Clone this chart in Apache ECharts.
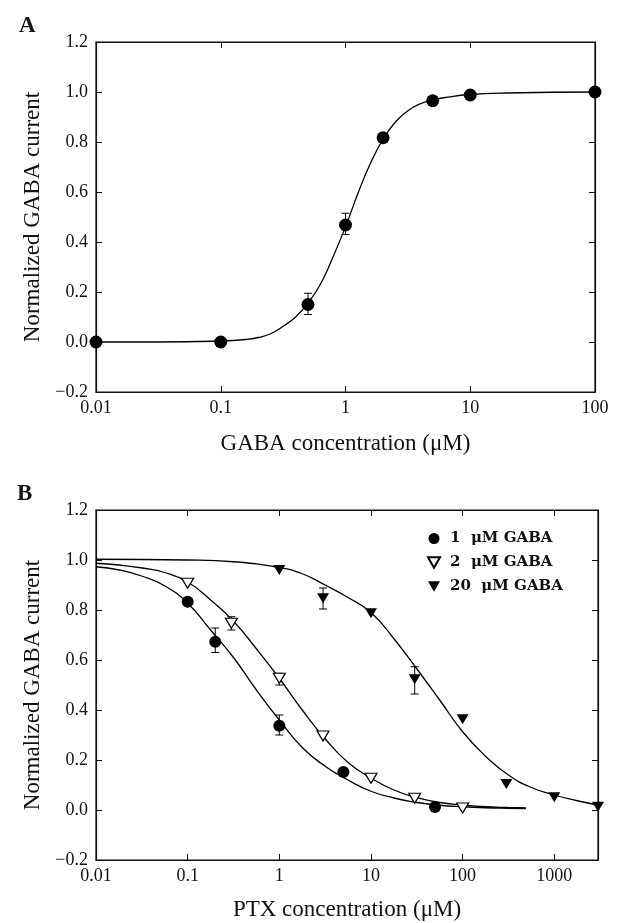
<!DOCTYPE html>
<html lang="en">
<head>
<meta charset="UTF-8">
<title>GABA and PTX concentration response</title>
<script src="https://cdn.jsdelivr.net/npm/echarts@6.0.0/dist/echarts.min.js"></script>
<style>
    html, body { margin: 0; padding: 0; background: #fff; }
    #main { width: 622px; height: 923px; }
</style>
</head>
<body>
<div id="main"></div>
<script>
// ---- panel A: GABA dose-response ----
var gabaConc = [0.01, 0.1, 0.5, 1, 2, 5, 10, 100];
var gabaResp = [0, 0, 0.15, 0.468, 0.817, 0.965, 0.988, 1.0];
var gabaErr = [[0.5, 0.11, 0.195], [1, 0.43, 0.515]];   // [conc, low, high]
// fitted curve
var gabaFit = [[0.01, 0], [0.032, 0], [0.1, 0.004], [0.158, 0.01], [0.2, 0.018], [0.251, 0.033],
    [0.316, 0.063], [0.398, 0.1], [0.501, 0.156], [0.631, 0.232], [0.794, 0.34], [1, 0.461],
    [1.259, 0.595], [1.585, 0.715], [1.995, 0.81], [2.512, 0.88], [3.162, 0.925], [3.981, 0.953],
    [5.012, 0.968], [6.31, 0.978], [10, 0.99], [20, 0.996], [100, 1.0]];

// ---- panel B: PTX inhibition ----
var ptx1Conc = [0.1, 0.2, 1, 5, 50];
var ptx1Resp = [0.833, 0.673, 0.337, 0.152, 0.012];
var ptx1Err = [[0.2, 0.63, 0.728], [1, 0.30, 0.38]];

var ptx2Conc = [0.1, 0.3, 1, 3, 10, 30, 100];
var ptx2Resp = [0.907, 0.747, 0.527, 0.296, 0.127, 0.047, 0.008];
var ptx2Err = [[0.3, 0.72, 0.773], [1, 0.50, 0.547]];

var ptx20Conc = [1, 3, 10, 30, 100, 300, 1000, 3000];
var ptx20Resp = [0.96, 0.847, 0.787, 0.523, 0.363, 0.104, 0.051, 0.013];
var ptx20Err = [[3, 0.804, 0.888], [30, 0.464, 0.573]];

var ptx1Fit = [[0.01, 0.973], [0.018, 0.96], [0.032, 0.935], [0.056, 0.897], [0.1, 0.827],
    [0.178, 0.72], [0.316, 0.61], [0.562, 0.48], [1, 0.36], [1.78, 0.25], [3.16, 0.175],
    [5.62, 0.12], [10, 0.075], [17.8, 0.048], [31.6, 0.03], [56.2, 0.019], [100, 0.013],
    [178, 0.009], [316, 0.007], [490, 0.006]];
var ptx2Fit = [[0.01, 0.987], [0.018, 0.98], [0.032, 0.968], [0.056, 0.95], [0.1, 0.912],
    [0.178, 0.84], [0.316, 0.755], [0.562, 0.645], [1, 0.527], [1.78, 0.4], [3.16, 0.285],
    [5.62, 0.19], [10, 0.128], [17.8, 0.08], [31.6, 0.05], [56.2, 0.03], [100, 0.02],
    [178, 0.013], [316, 0.01], [490, 0.008]];
var ptx20Fit = [[0.01, 1.003], [0.1, 1.0], [0.316, 0.993], [1, 0.97], [1.78, 0.945], [3.16, 0.9],
    [5.62, 0.85], [10, 0.79], [17.8, 0.685], [31.6, 0.565], [56.2, 0.44], [100, 0.313],
    [178, 0.215], [316, 0.14], [562, 0.09], [1000, 0.06], [1780, 0.037], [3000, 0.02]];

var legendNames = ['1  \u03bcM GABA', '2  \u03bcM GABA', '20  \u03bcM GABA'];
var yTicks = { min: -0.2, max: 1.2, interval: 0.2 };

var serif = 'Liberation Serif';
var triDown = 'path://M0,0L10,0L5,8.7Z';

function zip(xs, ys) {
    return xs.map(function (x, i) { return [x, ys[i]]; });
}

function fmtY(v) {
    return v.toFixed(1).replace('-', '\u2212');
}
function fmtX(v) {
    var lg = Math.log10(v);
    if (Math.abs(lg - Math.round(lg)) > 1e-6) return '';
    return String(parseFloat(v.toPrecision(3)));
}

function errRender(params, api) {
    var x = api.value(0);
    var lo = api.coord([x, api.value(1)]);
    var hi = api.coord([x, api.value(2)]);
    var w = 4;
    var st = { stroke: '#000', lineWidth: 1 };
    return {
        type: 'group',
        children: [
            { type: 'line', shape: { x1: lo[0], y1: lo[1], x2: hi[0], y2: hi[1] }, style: st },
            { type: 'line', shape: { x1: lo[0] - w, y1: lo[1], x2: lo[0] + w, y2: lo[1] }, style: st },
            { type: 'line', shape: { x1: hi[0] - w, y1: hi[1], x2: hi[0] + w, y2: hi[1] }, style: st }
        ]
    };
}

function xAxis(grid, max, name, gap, top) {
    return {
        type: 'log', logBase: 10, gridIndex: grid, min: 0.01, max: max,
        position: top ? 'top' : 'bottom',
        name: top ? '' : name, nameLocation: 'middle', nameGap: gap,
        nameTextStyle: { fontFamily: serif, fontSize: 23, color: '#111' },
        axisLine: { onZero: false, lineStyle: { color: '#111', width: 1.2 } },
        axisTick: { inside: true, length: 6, lineStyle: { color: '#111' } },
        minorTick: { show: false },
        splitLine: { show: false },
        axisLabel: { show: !top, formatter: fmtX, fontFamily: serif, fontSize: 18, color: '#111', margin: 7,
            showMaxLabel: max === 100 }
    };
}
function yAxis(grid, right) {
    return {
        type: 'value', gridIndex: grid, position: right ? 'right' : 'left',
        min: yTicks.min, max: yTicks.max, interval: yTicks.interval,
        name: right ? '' : 'Normalized GABA current', nameLocation: 'middle', nameGap: 52,
        nameTextStyle: { fontFamily: serif, fontSize: 23, color: '#111' },
        axisLine: { show: true, onZero: false, lineStyle: { color: '#111', width: 1.2 } },
        axisTick: { show: true, inside: true, length: 6, lineStyle: { color: '#111' } },
        splitLine: { show: false },
        axisLabel: { show: !right, formatter: fmtY, fontFamily: serif, fontSize: 18, color: '#111', margin: 8 }
    };
}

function fitLine(data, xi, yi) {
    return {
        type: 'line', data: data, xAxisIndex: xi, yAxisIndex: yi,
        symbol: 'none', smooth: 0.5, silent: true, z: 2,
        lineStyle: { color: '#000', width: 1.3 }
    };
}
function errSeries(data, xi, yi) {
    return {
        type: 'custom', data: data, xAxisIndex: xi, yAxisIndex: yi,
        renderItem: errRender, encode: { x: 0, y: [1, 2] }, silent: true, z: 3
    };
}

var myChart = echarts.init(document.getElementById('main'));
var option = {
    backgroundColor: '#fff',
    animation: false,
    title: [
        { text: 'A', left: 14, top: 10, textStyle: { fontFamily: serif, fontSize: 23, fontWeight: 'bold', color: '#111' } },
        { text: 'B', left: 12, top: 478, textStyle: { fontFamily: serif, fontSize: 23, fontWeight: 'bold', color: '#111' } }
    ],
    legend: {
        data: [
            { name: legendNames[0], icon: 'circle' },
            { name: legendNames[1], icon: triDown },
            { name: legendNames[2], icon: triDown }
        ],
        orient: 'vertical', left: 422, top: 526,
        itemWidth: 12, itemHeight: 11, itemGap: 9,
        textStyle: { fontFamily: 'DejaVu Serif', fontWeight: 'bold', fontSize: 15, lineHeight: 15,
            color: '#111', padding: [0, 0, 0, 5] }
    },
    grid: [
        { left: 96, right: 27, top: 42, height: 350, show: true, borderColor: '#111', borderWidth: 1.2 },
        { left: 96, right: 24, top: 510, height: 350, show: true, borderColor: '#111', borderWidth: 1.2 }
    ],
    xAxis: [
        xAxis(0, 100, 'GABA concentration (\u03bcM)', 40, false),
        xAxis(0, 100, '', 0, true),
        xAxis(1, 3000, 'PTX concentration (\u03bcM)', 38, false),
        xAxis(1, 3000, '', 0, true)
    ],
    yAxis: [yAxis(0, false), yAxis(0, true), yAxis(1, false), yAxis(1, true)],
    series: [
        fitLine(gabaFit, 0, 0),
        errSeries(gabaErr, 0, 0),
        {
            type: 'scatter', name: 'GABA', data: zip(gabaConc, gabaResp), xAxisIndex: 0, yAxisIndex: 0,
            symbol: 'circle', symbolSize: 13, itemStyle: { color: '#000', opacity: 1 }, z: 4
        },

        fitLine(ptx1Fit, 2, 2),
        fitLine(ptx2Fit, 2, 2),
        fitLine(ptx20Fit, 2, 2),
        errSeries(ptx1Err, 2, 2),
        errSeries(ptx2Err, 2, 2),
        errSeries(ptx20Err, 2, 2),
        {
            type: 'scatter', name: legendNames[0], data: zip(ptx1Conc, ptx1Resp), xAxisIndex: 2, yAxisIndex: 2,
            symbol: 'circle', symbolSize: 12, itemStyle: { color: '#000', opacity: 1 }, z: 4
        },
        {
            type: 'scatter', name: legendNames[1], data: zip(ptx2Conc, ptx2Resp), xAxisIndex: 2, yAxisIndex: 2,
            symbol: triDown, symbolSize: [12, 10],
            itemStyle: { color: '#fff', borderColor: '#000', borderWidth: 1.2, opacity: 1 }, z: 4
        },
        {
            type: 'scatter', name: legendNames[2], data: zip(ptx20Conc, ptx20Resp), xAxisIndex: 2, yAxisIndex: 2,
            symbol: triDown, symbolSize: [12, 10], itemStyle: { color: '#000', opacity: 1 }, z: 4
        }
    ]
};
myChart.setOption(option);
</script>
</body>
</html>
